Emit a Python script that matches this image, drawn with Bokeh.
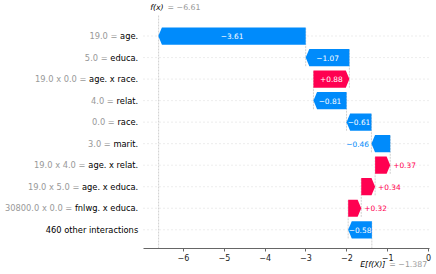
from bokeh.plotting import figure
from bokeh.models import Label, FixedTicker, Range1d, LinearAxis
from bokeh.embed import file_html
from bokeh.resources import INLINE

# ---------------- data ----------------
features = ["age.", "educa.", "age. x race.", "relat.", "race.", "marit.",
            "age. x relat.", "age. x educa.", "fnlwg. x educa.", "460 other interactions"]
feature_values = ["19.0", "5.0", "19.0 x 0.0", "4.0", "0.0", "3.0",
                  "19.0 x 4.0", "19.0 x 5.0", "30800.0 x 0.0", ""]
shap_values = [-3.61, -1.07, 0.88, -0.81, -0.61, -0.46, 0.37, 0.34, 0.32, -0.58]
base_value = -1.387
fx_value = -6.61
fx_text = "−6.61"
base_text = "−1.387"
xticks = [-6, -5, -4, -3, -2, -1, 0]
xtick_labels = ["−6", "−5", "−4", "−3", "−2", "−1", "0"]

# ---------------- style / layout ----------------
BLUE = "#008bfb"
RED = "#ff0051"
FONT = "DejaVu Sans"
W, H = 436, 274
# plot area (pixels in canvas) and its data limits
PL, PR, PT, PB = 143, 429, 14, 248
XP0, XP1 = -6.98, 0.025
YP0, YP1 = -0.87, 10.0
px = (PR - PL) / (XP1 - XP0)
py = (PB - PT) / (YP1 - YP0)
FX0 = XP0 - PL / px
FX1 = XP1 + (W - PR) / px
FY0 = YP0 - (H - PB) / py
FY1 = YP1 + PT / py

CW = {" ": 0.318, ".": 0.318, "=": 0.838, "+": 0.838, "−": 0.838, "x": 0.592,
      "a": 0.613, "b": 0.635, "c": 0.550, "d": 0.635, "e": 0.615, "f": 0.352,
      "g": 0.635, "h": 0.634, "i": 0.278, "j": 0.278, "k": 0.579, "l": 0.278,
      "m": 0.974, "n": 0.634, "o": 0.612, "p": 0.635, "r": 0.411, "s": 0.521,
      "t": 0.392, "u": 0.634, "v": 0.592, "w": 0.818, "y": 0.592, "z": 0.525}
def tw(s, fs):
    return sum(CW.get(c, 0.636) for c in s) * fs

n = len(features)
rows_y = [n - 1 - i for i in range(n)]

starts = [0.0] * n
ends = [0.0] * n
loc = base_value
for i in reversed(range(n)):
    starts[i] = loc
    loc += shap_values[i]
    ends[i] = loc

p = figure(width=W, height=H, output_backend="svg", toolbar_location=None,
           x_range=Range1d(FX0, FX1), y_range=Range1d(FY0, FY1),
           x_axis_location=None, y_axis_location=None, min_border=0)
p.outline_line_color = None
p.grid.visible = False
p.background_fill_color = "white"
p.border_fill_color = "white"

# row gridlines (dotted)
p.segment(x0=[XP0] * n, y0=rows_y, x1=[XP1] * n, y1=rows_y,
          line_color="#cccccc", line_width=0.7, line_dash="1 3")

# f(x) line, full height of plot area
p.segment(x0=[fx_value], y0=[YP0], x1=[fx_value], y1=[YP1],
          line_color="#bbbbbb", line_width=0.7, line_dash="2 1")

# connector lines
p.segment(x0=starts, y0=[max(y - 1.4, YP0) for y in rows_y], x1=starts,
          y1=[y + 0.4 for y in rows_y], line_color="#bbbbbb", line_width=0.7,
          line_dash="2 1")

# arrows
hl_max = 3.6 / px
half = 0.4
xs, ys, cols = [], [], []
for i in range(n):
    s, e, y = starts[i], ends[i], rows_y[i]
    d = 1 if e > s else -1
    hl = min(abs(e - s), hl_max)
    neck = e - d * hl
    xs.append([s, neck, e, neck, s])
    ys.append([y - half, y - half, y, y + half, y + half])
    cols.append(RED if shap_values[i] > 0 else BLUE)
p.patches(xs, ys, fill_color=cols, line_color=None)

# bar value labels
BFS = 7.4
for i in range(n):
    v = shap_values[i]
    txt = ("+" if v > 0 else "−") + "%.2f" % abs(v)
    wpx = abs(v) * px
    if tw(txt, BFS) < wpx:
        p.add_layout(Label(x=(starts[i] + ends[i]) / 2, y=rows_y[i], text=txt,
                           text_align="center", text_baseline="middle",
                           text_color="white", text_font=FONT,
                           text_font_size="%.1fpx" % BFS))
    elif v > 0:
        p.add_layout(Label(x=ends[i], y=rows_y[i], x_offset=3, text=txt,
                           text_align="left", text_baseline="middle",
                           text_color=RED, text_font=FONT,
                           text_font_size="%.1fpx" % BFS))
    else:
        p.add_layout(Label(x=ends[i], y=rows_y[i], x_offset=-2.5, text=txt,
                           text_align="right", text_baseline="middle",
                           text_color=BLUE, text_font=FONT,
                           text_font_size="%.1fpx" % BFS))

# y labels (gray value + black name)
YFS = 8.3
GAP = 5.3
for i in range(n):
    name = features[i]
    p.add_layout(Label(x=XP0, y=rows_y[i], x_offset=-GAP, text=name,
                       text_align="right", text_baseline="middle",
                       text_color="#000000", text_font=FONT,
                       text_font_size="%.1fpx" % YFS))
    if feature_values[i]:
        off = GAP + tw(name, YFS) + tw(" ", YFS)
        p.add_layout(Label(x=XP0, y=rows_y[i], x_offset=-off,
                           text=feature_values[i] + " =",
                           text_align="right", text_baseline="middle",
                           text_color="#999999", text_font=FONT,
                           text_font_size="%.1fpx" % YFS))

# f(x) label at top
TFS = 7.8
p.add_layout(Label(x=fx_value, y=YP1, x_offset=5, y_offset=7.3, text="f(x)",
                   text_align="right", text_baseline="middle",
                   text_color="#000000", text_font=FONT, text_font_style="italic",
                   text_font_size="%.1fpx" % TFS))
p.add_layout(Label(x=fx_value, y=YP1, x_offset=9, y_offset=7.3, text="= " + fx_text,
                   text_align="left", text_baseline="middle",
                   text_color="#999999", text_font=FONT,
                   text_font_size="%.1fpx" % TFS))

# E[f(X)] label at bottom
p.add_layout(Label(x=base_value, y=YP0, x_offset=13.5, y_offset=-16, text="E[f(X)]",
                   text_align="right", text_baseline="middle",
                   text_color="#000000", text_font=FONT, text_font_style="italic",
                   text_font_size="%.1fpx" % TFS))
p.add_layout(Label(x=base_value, y=YP0, x_offset=17.5, y_offset=-16, text="= " + base_text,
                   text_align="left", text_baseline="middle",
                   text_color="#999999", text_font=FONT,
                   text_font_size="%.1fpx" % TFS))

# x axis drawn at the bottom of the plot area
ax = LinearAxis(fixed_location=YP0, bounds=(XP0, XP1))
ax.ticker = FixedTicker(ticks=xticks)
ax.major_label_overrides = dict(zip(xticks, xtick_labels))
ax.minor_tick_line_color = None
ax.major_tick_in = 0
ax.major_tick_out = 3
ax.axis_line_color = "#666666"
ax.major_tick_line_color = "#666666"
ax.major_label_text_font = FONT
ax.major_label_text_font_size = "8px"
ax.major_label_text_color = "#222222"
ax.major_label_standoff = 2
p.add_layout(ax, "below")

open("out.html", "w").write(file_html(p, INLINE))
